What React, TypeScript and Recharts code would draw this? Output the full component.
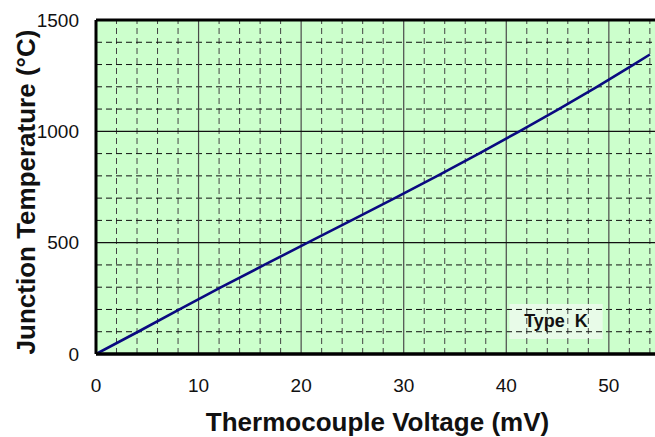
import { LineChart, Line, XAxis, YAxis, CartesianGrid, ReferenceLine, ReferenceArea, Label } from "recharts"

// Type K thermocouple: voltage (mV) vs junction temperature (°C)
const voltage = [0, 4.1, 8.14, 12.21, 16.4, 20.64, 24.9, 29.13, 33.28, 37.33, 41.28, 45.12, 48.84, 52.41, 54.0]
const temperature = [0, 100, 200, 300, 400, 500, 600, 700, 800, 900, 1000, 1100, 1200, 1300, 1345]

const xTicks = [0, 10, 20, 30, 40, 50]
const yTicks = [0, 500, 1000, 1500]
const xMinor = [2, 4, 6, 8, 12, 14, 16, 18, 22, 24, 26, 28, 32, 34, 36, 38, 42, 44, 46, 48, 52, 54]
const yMinor = [100, 200, 300, 400, 600, 700, 800, 900, 1100, 1200, 1300, 1400]
const xMajor = [10, 20, 30, 40, 50]
const yMajor = [500, 1000]

const data = voltage.map((v, i) => ({ mv: v, temp: temperature[i] }))

const FONT = "'Liberation Sans', Arial, sans-serif"

export default function App() {
  return (
    <div style={{ position: "absolute", left: 0, top: 0, width: 655, height: 437, background: "#fff" }}>
      <LineChart width={655} height={437} data={data} margin={{ top: 20, right: 0, left: 0, bottom: 0 }}>
        <CartesianGrid horizontal={false} vertical={false} fill="#ccffcc" stroke="none" />
        {xMinor.map((v) => (
          <ReferenceLine key={`xm-${v}`} x={v} stroke="#444" strokeWidth={1} strokeDasharray="6 4" />
        ))}
        {yMinor.map((v) => (
          <ReferenceLine key={`ym-${v}`} y={v} stroke="#111" strokeWidth={1} strokeDasharray="6 4" />
        ))}
        {xMajor.map((v) => (
          <ReferenceLine key={`xM-${v}`} x={v} stroke="#4a4a4a" strokeWidth={1.2} />
        ))}
        {yMajor.map((v) => (
          <ReferenceLine key={`yM-${v}`} y={v} stroke="#111" strokeWidth={1.2} />
        ))}
        <ReferenceArea x1={40.3} x2={49.4} y1={67} y2={225} fill="#e8fbe8" fillOpacity={1} stroke="none">
          <Label
            content={({ viewBox }: any) => {
              const { x, y, width, height } = viewBox
              return (
                <text x={x + width / 2} y={y + height / 2 + 6} textAnchor="middle" fontFamily={FONT} fontSize={18} fontWeight="bold" fill="#111" style={{ whiteSpace: "pre" }}>
                  {"Type  K"}
                </text>
              )
            }}
          />
        </ReferenceArea>
        <ReferenceLine y={1500} stroke="#000" strokeWidth={3} />
        <XAxis
          dataKey="mv"
          type="number"
          domain={[0, 54.5]}
          ticks={xTicks}
          allowDataOverflow
          height={83}
          axisLine={{ stroke: "#000", strokeWidth: 3.5 }}
          tickLine={false}
          tickSize={0}
          tickMargin={25}
          tick={{ fill: "#111", fontSize: 19, fontFamily: FONT }}
        >
          <Label
            content={({ viewBox }: any) => {
              const { x, y, width } = viewBox
              return (
                <text x={x + width / 2 + 2} y={y + 77} textAnchor="middle" fontFamily={FONT} fontSize={26} fontWeight="bold" fill="#111">
                  Thermocouple Voltage (mV)
                </text>
              )
            }}
          />
        </XAxis>
        <YAxis
          dataKey="temp"
          type="number"
          domain={[0, 1500]}
          ticks={yTicks}
          width={96}
          axisLine={{ stroke: "#000", strokeWidth: 3 }}
          tickLine={false}
          tickSize={0}
          tickMargin={17}
          tick={{ fill: "#111", fontSize: 19, fontFamily: FONT }}
        >
          <Label
            content={({ viewBox }: any) => {
              const { y, height } = viewBox
              const cx = 35
              const cy = y + height / 2 + 5
              return (
                <text x={cx} y={cy} transform={`rotate(-90, ${cx}, ${cy})`} textAnchor="middle" fontFamily={FONT} fontSize={26} fontWeight="bold" fill="#111">
                  Junction Temperature (°C)
                </text>
              )
            }}
          />
        </YAxis>
        <Line type="linear" dataKey="temp" stroke="#0a0a80" strokeWidth={2.6} dot={false} isAnimationActive={false} />
      </LineChart>
    </div>
  )
}
